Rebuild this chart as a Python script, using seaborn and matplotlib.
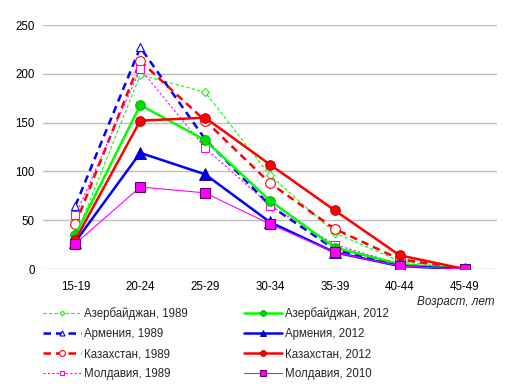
import matplotlib
matplotlib.use("Agg")
import matplotlib.pyplot as plt
import seaborn as sns
import pandas as pd

sns.set_theme(style="white")
plt.rcParams['font.family'] = ['Liberation Sans', 'DejaVu Sans']

ages = ["15-19", "20-24", "25-29", "30-34", "35-39", "40-44", "45-49"]

az_1989 = [33, 199, 181, 96, 37, 8, 0]
arm_1989 = [65, 227, 133, 65, 20, 4, 0]
kaz_1989 = [46, 213, 152, 88, 41, 10, 0]
mol_1989 = [55, 205, 124, 65, 25, 5, 0]
az_2012 = [35, 168, 132, 70, 22, 5, 0]
arm_2012 = [28, 119, 97, 48, 17, 3, 0]
kaz_2012 = [30, 152, 155, 107, 60, 14, 0]
mol_2010 = [26, 84, 78, 46, 17, 3, 0]

labels = ["Азербайджан, 1989", "Армения, 1989", "Казахстан, 1989", "Молдавия, 1989",
          "Азербайджан, 2012", "Армения, 2012", "Казахстан, 2012", "Молдавия, 2010"]
series = [az_1989, arm_1989, kaz_1989, mol_1989, az_2012, arm_2012, kaz_2012, mol_2010]

styles = [
    dict(color="#00ff00", lw=0.8, ls=(0, (3, 2)), marker="D", ms=4, mfc="white", mec="#00ff00", mew=0.8),
    dict(color="#0000ff", lw=1.8, ls=(0, (3, 2)), marker="^", ms=6, mfc="white", mec="#0000ff", mew=0.8),
    dict(color="#ff0000", lw=1.8, ls=(0, (3, 2)), marker="o", ms=7, mfc="white", mec="#ff0000", mew=0.8),
    dict(color="#ff00ff", lw=0.8, ls=(0, (2, 2)), marker="s", ms=6, mfc="white", mec="#ff00ff", mew=0.8),
    dict(color="#00ff00", lw=1.8, ls="-", marker="o", ms=7, mfc="#00dd00", mec="#00aa00", mew=0.6),
    dict(color="#0000ff", lw=1.8, ls="-", marker="^", ms=8, mfc="#0000ee", mec="#000088", mew=0.6),
    dict(color="#ff0000", lw=1.8, ls="-", marker="o", ms=7, mfc="#ff0000", mec="#aa0000", mew=0.6),
    dict(color="#ff00ff", lw=0.8, ls="-", marker="s", ms=6.5, mfc="#ff00ff", mec="#660066", mew=0.8),
]

fig = plt.figure(figsize=(5.18, 3.88), dpi=100)
ax = fig.add_axes([43/518, 1 - 269/388, (497-43)/518, (269-25)/388])

for lab, vals, st in zip(labels, series, styles):
    df = pd.DataFrame({"age": ages, "val": vals})
    sns.lineplot(data=df, x="age", y="val", ax=ax, label=lab, color=st["color"],
                 linewidth=st["lw"], linestyle=st["ls"], marker=st["marker"],
                 markersize=st["ms"], markerfacecolor=st["mfc"], markeredgecolor=st["mec"],
                 markeredgewidth=st["mew"], legend=False)

ax.set_xlim(-0.5, 6.5)
ax.set_ylim(0, 250)
ax.set_yticks([0, 50, 100, 150, 200, 250])
ax.yaxis.grid(True, color="#c0c0c0", lw=1)
ax.set_axisbelow(True)
for s in ax.spines.values():
    s.set_visible(False)
ax.set_xlabel("")
ax.set_ylabel("")
ax.tick_params(axis="both", length=0, labelsize=8.3, colors="black")
ax.tick_params(axis="x", pad=9)
ax.tick_params(axis="y", pad=6)

fig.text(0.955, 1 - 302/388, "Возраст, лет", style="italic", fontsize=8.5, ha="right", va="center")

handles, labs = ax.get_legend_handles_labels()
fig.legend(handles, labs, ncol=2, loc="upper left", bbox_to_anchor=(43/518, 1 - 307/388),
           frameon=False, fontsize=8.3, handlelength=3.3, columnspacing=4.8,
           labelspacing=0.7, handletextpad=0.3, borderaxespad=0, borderpad=0,
           markerscale=0.6)

fig.savefig("out.png", dpi=100)
